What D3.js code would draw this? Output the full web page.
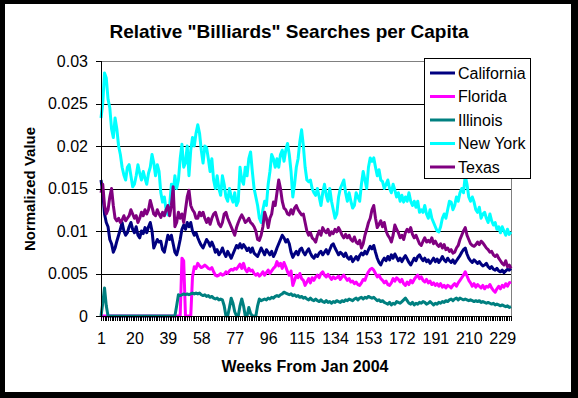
<!DOCTYPE html>
<html lang="en">
<head>
<meta charset="UTF-8">
<title>Relative "Billiards" Searches per Capita</title>
<script src="https://cdn.jsdelivr.net/npm/d3@7"></script>
<style>
  body { margin: 0; background: #000; }
  svg { display: block; font-family: Arial, "Liberation Sans", sans-serif; }
  .axis path, .axis line { stroke: #000; shape-rendering: crispEdges; }
  .axis text { font-size: 16px; fill: #000; }
</style>
</head>
<body>
<div id="chart"></div>
<script>
// weekly values, written in thousandths (x 0.001)
const california = [
  16, 14.5, 12, 11, 10.5, 9, 8.5, 7.5, 8, 8.8,
  9.5, 10.2, 11, 10, 9.5, 9.8, 10.5, 11, 10.2, 9.8,
  10.5, 9.5, 9.2, 10, 9.7, 10.4, 9.8, 10.5, 11, 10,
  8, 8.5, 9, 8.7, 8.8, 7.8, 7.5, 8.5, 9.5, 9,
  9.5, 8.5, 7.5, 7.2, 8, 9, 10.2, 10.7, 10.2, 11,
  10.5, 11, 10, 9.5, 9.8, 9.2, 8.7, 8.3, 8, 8.5,
  9, 8.7, 8.2, 8.7, 8.2, 7.5, 7.8, 7.2, 7.5, 8,
  7.4, 7, 7.6, 7.2, 6.8, 7.3, 7.8, 8.3, 8, 8.5,
  8, 8.4, 8.1, 7.7, 8, 7.5, 8, 7.4, 7.2, 7,
  7.5, 8, 7.6, 7.2, 7.8, 7.5, 7.2, 7.6, 7, 7.4,
  8, 8.5, 9, 9.5, 9.2, 8.7, 9, 8.5, 7.5, 6.9,
  7.3, 7.6, 7.2, 7.8, 8, 7.5, 7.2, 7.6, 7.9, 7.4,
  7, 6.8, 7.2, 7, 7.4, 7.6, 7.2, 7.5, 7.8, 7.3,
  7.8, 8.3, 8.5, 8, 7.6, 7.2, 7.5, 7.3, 7, 7.4,
  6.9, 6.7, 7, 6.4, 6.7, 7, 6.6, 7.1, 7.4, 7.2,
  7.6, 7.3, 7.8, 8.2, 7.9, 8.3, 7.5, 6.8, 6.3, 6,
  6.5, 6.8, 6.5, 7, 6.6, 7.2, 6.8, 7.3, 6.9, 6.5,
  6.8, 6.4, 6.8, 7.1, 6.7, 6.3, 6, 6.4, 6.8, 6.5,
  7, 7.2, 6.8, 6.5, 6.8, 6.4, 6.6, 6.2, 6.5, 6.8,
  6.4, 6.7, 6.3, 6.6, 7, 6.6, 6.4, 6.8, 6.5, 6.3,
  6.6, 6.2, 6.5, 6.8, 7.1, 7.5, 7.8, 8, 7.3, 6.8,
  6.5, 6.3, 6.6, 6.4, 6.2, 6.4, 6.1, 5.9, 6, 6.2,
  5.8, 5.6, 5.8, 5.5, 5.4, 5.6, 5.3, 5.2, 5.4, 5.1,
  5.3, 5.5, 5.4, 5.6
];

const florida = [
  0, 0, 0, 0, 0, 0, 0, 0, 0, 0,
  0, 0, 0, 0, 0, 0, 0, 0, 0, 0,
  0, 0, 0, 0, 0, 0, 0, 0, 0, 0,
  0, 0, 0, 0, 0, 0, 0, 0, 0, 0,
  0, 0, 0, 0, 0, 0, 6.8, 6.5, 0, 0,
  0, 0, 4.6, 5.8, 5.6, 6.2, 5.9, 5.7, 5.8, 6,
  5.8, 5.6, 5.5, 5.7, 5.2, 4.8, 4.7, 4.8, 5, 4.8,
  4.9, 5.2, 5, 5.3, 5.5, 5.4, 5.6, 5.5, 5.8, 6.1,
  5.6, 6.2, 5.5, 5.2, 5.6, 5.3, 5.4, 5, 4.8, 5,
  4.7, 4.9, 5.2, 4.8, 5.1, 5.4, 5, 5.3, 5.6, 5.8,
  6.4, 5.9, 6.2, 5.6, 6.3, 5.8, 5.2, 4.8, 5.3, 3.6,
  4.2, 4.8, 4.5, 5, 4.4, 4.2, 3.6, 4, 4.4, 3.9,
  4.5, 4.2, 4.6, 4.8, 4.5, 5, 5.2, 4.8, 4.6, 4.9,
  4.6, 4.3, 4.6, 4.4, 4.5, 4.7, 4.3, 4.6, 4.8, 4.5,
  4.2, 4.4, 4, 4.1, 3.8, 4, 3.7, 3.6, 3.9, 4.3,
  4.2, 4.8, 5.2, 5.5, 5.6, 5.4, 5, 4.6, 4.8, 4.4,
  4.2, 3.9, 4.1, 3.7, 3.6, 3.9, 4.4, 4.1, 4.5, 4.3,
  4, 4.3, 3.8, 3.6, 4, 3.7, 4.2, 3.9, 4.3, 4.6,
  4.8, 4.4, 4.6, 4.2, 4, 4.3, 3.9, 4.1, 3.7, 3.9,
  3.6, 3.8, 3.5, 3.8, 3.4, 3.6, 3.3, 3.6, 3.5, 3.3,
  3.6, 3.8, 3.5, 3.9, 4.2, 4.5, 4.8, 5.2, 4.7, 4.2,
  3.9, 3.5, 3.8, 3.4, 3.7, 3.5, 3.3, 3.6, 3.2, 3.5,
  3.4, 3.7, 3.3, 3, 2.8, 3.2, 3.5, 3.2, 3.6, 3.4,
  3.8, 3.5, 3.9, 4
];

const illinois = [
  0, 1.5, 3.3, 1.2, 0, 0, 0, 0, 0, 0,
  0, 0, 0, 0, 0, 0, 0, 0, 0, 0,
  0, 0, 0, 0, 0, 0, 0, 0, 0, 0,
  0, 0, 0, 0, 0, 0, 0, 0, 0, 0,
  0, 0, 0, 1.2, 2.5, 2.4, 2.5, 2.6, 2.5, 2.6,
  2.5, 2.6, 2.7, 2.6, 2.7, 2.6, 2.7, 2.5, 2.4, 2.5,
  2.3, 2.4, 2.2, 2.3, 2.1, 2, 2.1, 1.9, 2, 1.9,
  1.2, 0, 0, 1, 2.1, 1.5, 0.5, 0, 0, 1.2,
  2, 1.2, 0, 0, 1, 0.3, 0, 0, 0, 1.2,
  2, 1.8, 1.9, 2, 1.9, 2.1, 2, 2.2, 2.1, 2.3,
  2.4, 2.3, 2.5, 2.6, 2.8, 2.7, 2.6, 2.5, 2.6, 2.4,
  2.5, 2.3, 2.4, 2.2, 2.3, 2.1, 2.2, 2, 1.9, 2.1,
  1.9, 1.8, 2, 1.8, 1.7, 1.9, 1.7, 1.6, 1.8, 1.6,
  1.7, 1.5, 1.7, 1.6, 1.8, 1.7, 1.6, 1.8, 1.7, 1.9,
  1.8, 2, 1.9, 1.8, 2, 2.1, 1.9, 2.1, 2.2, 2,
  2.2, 2.1, 2.3, 2.2, 2.1, 2.2, 2, 1.8, 1.9, 1.7,
  1.8, 1.6, 1.5, 1.4, 1.6, 1.3, 1.5, 1.4, 1.7, 1.6,
  1.5, 1.7, 1.9, 2.1, 1.8, 1.5, 1.4, 1.6, 1.3, 1.5,
  1.4, 1.6, 1.5, 1.7, 1.6, 1.4, 1.5, 1.7, 1.5, 1.3,
  1.5, 1.4, 1.6, 1.5, 1.7, 1.6, 1.8, 1.7, 1.9, 2,
  1.8, 2, 2.1, 1.9, 2.1, 2, 1.9, 2, 1.9, 1.8,
  1.9, 1.8, 1.7, 1.8, 1.7, 1.8, 1.6, 1.7, 1.6, 1.5,
  1.6, 1.5, 1.4, 1.5, 1.3, 1.4, 1.3, 1.2, 1.3, 1.2,
  1.1, 1.2, 1, 1.1
];

const newYork = [
  23.3, 25, 28.6, 28, 25.5, 24.5, 22, 21, 23.3, 22,
  20, 19, 17.5, 16.6, 16, 17.5, 17.8, 16.5, 15.2, 15.5,
  16.5, 17.8, 16.8, 16, 17, 16.2, 15.5, 16.8, 17.5, 19,
  18, 16.5, 17.8, 17, 14.5, 13.4, 14, 12.5, 11.9, 13,
  15.5, 14.5, 16.5, 15, 16, 18.5, 20.2, 17.5, 18, 20,
  16.5, 19.5, 21, 20, 21.5, 22.5, 21.5, 19.5, 18, 20,
  19.8, 18.5, 17, 18.5, 16, 15, 16.5, 15, 14.2, 16.5,
  15.5, 14, 13.5, 15, 14, 13.4, 14.5, 13, 13.5, 17.5,
  16, 15.5, 17.5, 16.5, 18.5, 19.3, 17, 15, 14, 13,
  11.5, 11, 12.5, 13.5, 13, 15.5, 17, 19, 18.5, 17.5,
  18.5, 17.5, 19, 19.5, 18.2, 19.5, 20.3, 19, 17, 14,
  15.5, 17.5, 18.5, 20.5, 21.9, 20, 17.5, 16, 15.8, 16,
  15, 14.5, 14.2, 15, 14, 13, 14.5, 15.5, 14.2, 13.5,
  15, 13.5, 12.5, 11.5, 12, 14, 15, 15.5, 16, 14.5,
  13.5, 14.5, 13.5, 12.7, 13, 14.5, 14, 13.5, 15.5, 17,
  16, 15, 17.5, 18.6, 18.2, 18.6, 17.5, 16.5, 17.2, 16,
  15.8, 15, 15.5, 16, 15, 14.5, 15.5, 14.8, 14, 14.5,
  13.5, 14.2, 13.4, 14, 13.5, 14.5, 13.5, 13, 13.5, 12.8,
  13.5, 12.2, 12.5, 12.2, 13, 12, 11.5, 12.5, 11.5, 11,
  10.5, 10, 9.9, 10.5, 11.5, 12, 11.5, 12.5, 13.5, 13.4,
  12.5, 13, 14, 13.5, 14.5, 15, 14.5, 16.5, 15.5, 14,
  13.5, 14, 13.4, 12.5, 12.2, 12.8, 11.5, 12, 12.2, 11.5,
  11, 12, 11.2, 10.7, 11, 10.2, 10.5, 9.8, 10.5, 10,
  9.5, 10.2, 9.6, 9.9
];

const texas = [
  14.5, 15.5, 13, 12, 12.5, 14, 15, 13, 11.5, 11.2,
  11.5, 11, 11.3, 11.8, 11.2, 11.5, 11.8, 12.5, 12, 11.5,
  11.8, 11, 11.5, 12.2, 11.8, 12.5, 12, 12.5, 13.6, 12.8,
  12, 11.8, 12.5, 12, 11.6, 12.2, 11.8, 12.5, 13, 11.8,
  13, 15.2, 10.5, 11, 12.2, 11.5, 12, 11, 12.5, 14,
  14.8, 13, 12.5, 12.2, 11.5, 11.5, 12.2, 11.8, 12.2, 11.5,
  11, 11.5, 10.8, 11.5, 12, 12.2, 11.5, 10.8, 10.5, 11,
  12, 12.2, 11.5, 11, 10.5, 10, 9.5, 10.4, 11, 11.5,
  11.9, 11.5, 11, 11.2, 11.5, 11, 10.8, 10.5, 10, 9,
  8.9, 9.5, 10.5, 12.2, 11.5, 10.4, 11.5, 12, 13.4, 13,
  14.5, 16, 15, 13.5, 12.7, 12.5, 12, 11.9, 12.5, 12,
  12.7, 13, 12.5, 12.2, 11.9, 12, 11, 10, 9.5, 9.8,
  9.2, 9, 8.7, 9.5, 10, 9.5, 10.4, 10, 9.8, 10.2,
  9.5, 9.9, 9.7, 10.2, 9.9, 10.4, 10, 9.5, 9.2, 9.6,
  9.2, 9.5, 9, 8.8, 9.3, 8.7, 8.5, 8.9, 8, 8.5,
  9.5, 10.2, 11, 11.5, 12.5, 13, 11.5, 10.4, 10.8, 11.2,
  10.5, 11, 10, 9.5, 9.2, 8.7, 9.5, 10.7, 10.2, 9.8,
  9.2, 9.5, 9, 9.8, 10.2, 9.9, 10.4, 9.6, 9.2, 9.5,
  9, 8.5, 8.3, 8.8, 9.2, 8.7, 8.9, 8.7, 9.2, 8.5,
  8.8, 8.4, 8.2, 8.5, 8, 8.4, 7.8, 8, 7.6, 7.8,
  7.4, 7.5, 8, 8.3, 9, 9.5, 10, 10.4, 9.5, 9,
  8.5, 8.3, 8.2, 8.4, 8.7, 8.4, 8.8, 8.6, 8.3, 8,
  7.8, 7.5, 7.6, 7.2, 7, 7.2, 6.8, 6.5, 6.2, 6,
  6.5, 5.8, 6, 5.6
];

const seriesNames = ["California", "Florida", "Illinois", "New York", "Texas"];
const seriesColors = ["#000080", "#ff00ff", "#008080", "#00ffff", "#800080"];
const seriesData = [california, florida, illinois, newYork, texas];

const weekLabels = [1, 20, 39, 58, 77, 96, 115, 134, 153, 172, 191, 210, 229];
const yTicks = [0, 0.005, 0.01, 0.015, 0.02, 0.025, 0.03];
const yTickLabels = ["0", "0.005", "0.01", "0.015", "0.02", "0.025", "0.03"];

const W = 578, H = 398;
const plot = {left: 101, right: 511, top: 61, bottom: 316};
const nWeeks = california.length;
const weeks = d3.range(1, nWeeks + 1);

const svg = d3.select("#chart").append("svg")
    .attr("width", W)
    .attr("height", H);

// black frame + white chart area
svg.append("rect").attr("width", W).attr("height", H).attr("fill", "#000");
svg.append("rect")
    .attr("x", 5).attr("y", 4)
    .attr("width", 566).attr("height", 388)
    .attr("fill", "#fff");

const x = d3.scaleLinear().domain([1, nWeeks]).range([plot.left, plot.right]);
const y = d3.scaleLinear().domain([0, 0.03]).range([plot.bottom, plot.top]);

// gridlines
svg.append("g")
    .selectAll("line")
    .data(yTicks.slice(1, -1))
    .join("line")
    .attr("x1", plot.left).attr("x2", plot.right)
    .attr("y1", d => Math.round(y(d)) + 0.5)
    .attr("y2", d => Math.round(y(d)) + 0.5)
    .attr("stroke", "#000");

// gray plot border (top + right)
svg.append("path")
    .attr("d", `M${plot.left},${plot.top + 0.5}H${plot.right + 0.5}V${plot.bottom}`)
    .attr("fill", "none")
    .attr("stroke", "#808080");

// lines
const line = d3.line()
    .x((d, i) => x(weeks[i]))
    .y(d => y(d / 1000));

svg.append("g")
    .selectAll("path")
    .data(seriesData)
    .join("path")
    .attr("d", line)
    .attr("fill", "none")
    .attr("stroke", (d, i) => seriesColors[i])
    .attr("stroke-width", 3)
    .attr("stroke-linejoin", "round");

// axes
svg.append("g")
    .attr("class", "axis")
    .attr("transform", `translate(0,${plot.bottom})`)
    .call(d3.axisBottom(x)
        .tickValues(weeks)
        .tickSize(5)
        .tickPadding(12)
        .tickFormat(d => weekLabels.includes(d) ? d : ""))
    .call(g => g.select(".domain").attr("d", `M${plot.left},0.5H${plot.right}`));

svg.append("g")
    .attr("class", "axis")
    .attr("transform", `translate(${plot.left},0)`)
    .call(d3.axisLeft(y)
        .tickValues(yTicks)
        .tickSize(5)
        .tickPadding(8)
        .tickFormat((d, i) => yTickLabels[i]))
    .call(g => g.select(".domain").attr("d", `M0.5,${plot.top}V${plot.bottom}`));

// titles
svg.append("text")
    .attr("x", 289).attr("y", 38)
    .attr("text-anchor", "middle")
    .attr("font-size", 19).attr("font-weight", "bold")
    .text('Relative "Billiards" Searches per Capita');

svg.append("text")
    .attr("x", 305).attr("y", 372)
    .attr("text-anchor", "middle")
    .attr("font-size", 16).attr("font-weight", "bold")
    .text("Weeks From Jan 2004");

svg.append("text")
    .attr("transform", "translate(35,189) rotate(-90)")
    .attr("text-anchor", "middle")
    .attr("font-size", 15).attr("font-weight", "bold")
    .text("Normalized Value");

// legend
const legend = svg.append("g").attr("transform", "translate(424,58)");
legend.append("rect")
    .attr("x", 0.5).attr("y", 0.5)
    .attr("width", 106).attr("height", 120)
    .attr("fill", "#fff").attr("stroke", "#000");

const item = legend.selectAll("g.item")
    .data(seriesNames)
    .join("g")
    .attr("class", "item")
    .attr("transform", (d, i) => `translate(0,${15 + i * 23.5})`);

item.append("line")
    .attr("x1", 6).attr("x2", 31)
    .attr("stroke", (d, i) => seriesColors[i])
    .attr("stroke-width", 3);

item.append("text")
    .attr("x", 34).attr("y", 5.5)
    .attr("font-size", 16)
    .text(d => d);
</script>
</body>
</html>
